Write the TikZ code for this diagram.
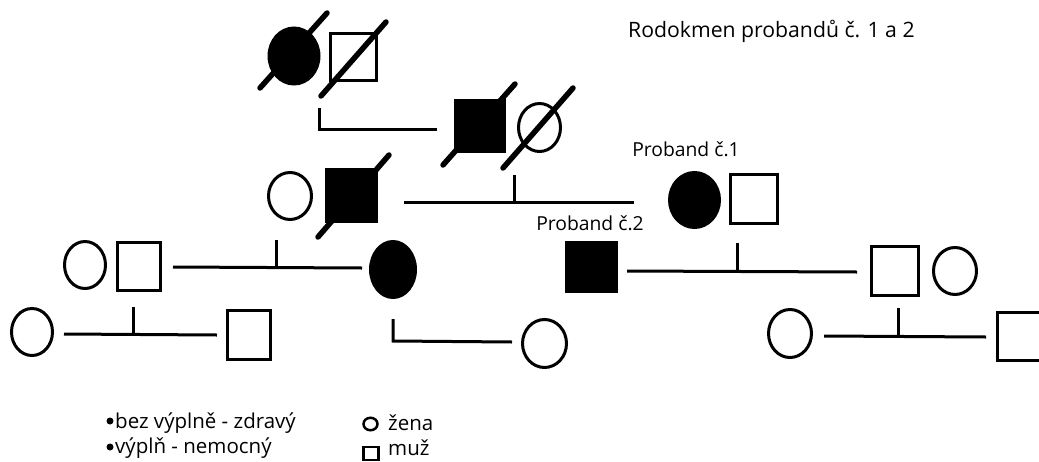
\documentclass[tikz,border=0pt]{standalone}
\usepackage{fontspec}
\setmainfont{Open Sans}
\usetikzlibrary{shapes.geometric}
\begin{document}
\begin{tikzpicture}[x=1pt,y=-1pt,
  fem/.style={draw,ellipse,line width=3pt,inner sep=0pt},
  male/.style={draw,rectangle,line width=3pt,inner sep=0pt},
  aff/.style={fill=black},
  deadline/.style={line width=5.5pt,line cap=round},
  link/.style={line width=3pt},
  lbl/.style={inner sep=0pt,font=\fontsize{19.3}{22}\selectfont},
  ttl/.style={inner sep=0pt,anchor=west,font=\fontsize{21.2}{24}\selectfont},
  leg/.style={inner sep=0pt,anchor=base west,font=\fontsize{20.5}{22}\selectfont},
  bul/.style={circle,fill=black,minimum size=7pt,inner sep=0pt}]
\useasboundingbox (0,0) rectangle (1039,461);
\clip (0,0) rectangle (1039,461);
% generation 1
\node[fem,aff,minimum width=50pt,minimum height=56pt] (a1) at (294,56) {};
\node[male,minimum width=46pt,minimum height=47pt] (a2) at (353.5,57) {};
\coordinate (a1s) at (260,88); \coordinate (a1e) at (327,13);
\coordinate (a2s) at (321,96); \coordinate (a2e) at (386,22);
\draw[deadline] (a1s) -- (a1e);
\draw[deadline] (a2s) -- (a2e);
\coordinate (ab1) at (319,108); \coordinate (ab2) at (319,129); \coordinate (ab3) at (437,129);
\draw[link] (ab1) -- (ab2) -- (ab3);
% generation 2
\node[male,aff,minimum width=49pt,minimum height=51pt] (b1) at (480,126) {};
\node[fem,minimum width=42pt,minimum height=48pt] (b2) at (539.5,127.5) {};
\coordinate (b1s) at (443,165); \coordinate (b1e) at (515,84);
\coordinate (b2s) at (503,168); \coordinate (b2e) at (573,88);
\draw[deadline] (b1s) -- (b1e);
\draw[deadline] (b2s) -- (b2e);
% generation 3
\node[fem,minimum width=43pt,minimum height=47pt] (c1) at (290,196) {};
\node[male,aff,minimum width=50pt,minimum height=52pt] (c2) at (351.5,195.5) {};
\coordinate (c2s) at (318,237); \coordinate (c2e) at (389,155);
\draw[deadline] (c2s) -- (c2e);
\coordinate (cl1) at (404,202); \coordinate (cl2) at (634,202);
\coordinate (cv1) at (514,175); \coordinate (cv2) at (514,202);
\draw[link] (cl1) -- (cl2);
\draw[link] (cv1) -- (cv2);
\node[fem,aff,minimum width=50pt,minimum height=55pt] (c3) at (694.5,200) {};
\node[male,minimum width=47pt,minimum height=49pt] (c4) at (754,199) {};
\node[lbl] (p1) at (686,149) {Proband č.1};
% generation 4
\node[fem,minimum width=41pt,minimum height=47pt] (d1) at (85,265) {};
\node[male,minimum width=43pt,minimum height=48pt] (d2) at (139,266.5) {};
\coordinate (dl1) at (173,267); \coordinate (dl2) at (362,268);
\coordinate (dv1) at (276,240); \coordinate (dv2) at (276,267.5);
\draw[link] (dl1) -- (dl2);
\draw[link] (dv1) -- (dv2);
\node[fem,aff,minimum width=45pt,minimum height=56pt] (d3) at (393,269.5) {};
\node[male,aff,minimum width=50pt,minimum height=49pt] (d4) at (591.5,267) {};
\node[lbl] (p2) at (590,223) {Proband č.2};
\coordinate (el1) at (627,271); \coordinate (el2) at (857,272);
\coordinate (ev1) at (737,243); \coordinate (ev2) at (737,271.5);
\draw[link] (el1) -- (el2);
\draw[link] (ev1) -- (ev2);
\node[male,minimum width=47pt,minimum height=49pt] (d5) at (895,271) {};
\node[fem,minimum width=43pt,minimum height=47pt] (d6) at (955,271) {};
% generation 5
\node[fem,minimum width=41pt,minimum height=47pt] (e1) at (32,332) {};
\coordinate (fl1) at (64,334); \coordinate (fl2) at (217,335);
\coordinate (fv1) at (133,307); \coordinate (fv2) at (133,334.5);
\draw[link] (fl1) -- (fl2);
\draw[link] (fv1) -- (fv2);
\node[male,minimum width=43pt,minimum height=49pt] (e2) at (249,335) {};
\coordinate (gb1) at (393,319); \coordinate (gb2) at (393,341); \coordinate (gb3) at (512,342);
\draw[link] (gb1) -- (gb2) -- (gb3);
\node[fem,minimum width=44pt,minimum height=48pt] (e3) at (544.5,343.5) {};
\node[fem,minimum width=43pt,minimum height=48pt] (e4) at (790,333.5) {};
\coordinate (hl1) at (824,336); \coordinate (hl2) at (986,337);
\coordinate (hv1) at (898,308); \coordinate (hv2) at (898,336.5);
\draw[link] (hl1) -- (hl2);
\draw[link] (hv1) -- (hv2);
\node[male,minimum width=47pt,minimum height=48pt] (e5) at (1021,336.5) {};
% title
\node[ttl] (title) at (628,31) {Rodokmen probandů č. 1 a 2};
% legend
\node[bul] (b1leg) at (110,421) {};
\node[leg] (t1) at (115,428) {bez výplně - zdravý};
\node[bul] (b2leg) at (110,447) {};
\node[leg] (t2) at (115,453) {výplň - nemocný};
\node[draw,ellipse,line width=2.5pt,minimum width=14pt,minimum height=12.5pt,inner sep=0pt] (lc) at (370.5,424) {};
\node[leg] (t3) at (388,430) {žena};
\node[draw,rectangle,line width=2.5pt,minimum width=15pt,minimum height=13pt,inner sep=0pt] (ls) at (371,453.5) {};
\node[leg] (t4) at (388,455) {muž};
\end{tikzpicture}
\end{document}
